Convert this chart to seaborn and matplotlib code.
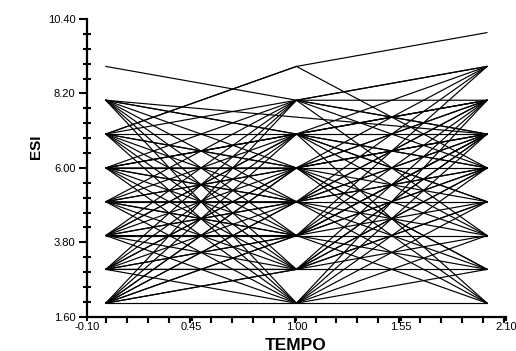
import numpy as np
import pandas as pd
import matplotlib
matplotlib.use("Agg")
import matplotlib.pyplot as plt
from matplotlib.ticker import MultipleLocator, FixedLocator, FormatStrFormatter
import seaborn as sns

# ESI score of each subject at the three time points (None = not measured)
esi_t0 = [9, 8, 8, 8, 8, 8, 8, 8, 8,
          7, 7, 7, 7, 7, 7, 7, 7, 7, 7,
          6, 6, 6, 6, 6, 6, 6, 6, 6, 6,
          5, 5, 5, 5, 5, 5, 5, 5, 5,
          4, 4, 4, 4, 4, 4, 4, 4, 4,
          3, 3, 3, 3, 3, 3, 3, 3, 3,
          2, 2, 2, 2, 2, 2, 2, 2, 2, 2, 2,
          3, 4, 5, 6]
esi_t1 = [8, 7, 6, 5, 4, 3, 2, 7, None,
          9, 9, 8, 7, 6, 5, 4, 3, 2, 6,
          8, 7, 6, 5, 4, 3, 2, 7, 5, None,
          8, 7, 6, 5, 4, 3, 2, 6, 4,
          8, 7, 6, 5, 4, 3, 2, 5, 7,
          8, 7, 6, 5, 4, 3, 2, 6, 4,
          7, 6, 5, 4, 3, 2, 8, 3, 4, 5, 6,
          3, 4, 5, 6]
esi_t2 = [7, 8, 7, 6, 5, 4, 3, 6, 7,
          10, 6, 9, 7, 8, 7, 6, 5, 4, 5,
          9, 8, 6, 7, 7, 6, 5, 5, 4, 8,
          8, 9, 7, 5, 8, 7, 6, 4, 3,
          7, 6, 9, 8, 4, 8, 7, 3, 2,
          6, 4, 3, 9, 7, 3, 8, 2, 6,
          5, 8, 2, 9, 6, 2, 4, 5, 2, 6, 3,
          7, 7, 8, 7]
tempo = [0.0, 1.0, 2.0]

rows = []
for sid, vals in enumerate(zip(esi_t0, esi_t1, esi_t2)):
    for t, v in zip(tempo, vals):
        if v is not None:
            rows.append({"id": sid, "TEMPO": t, "ESI": float(v)})
df = pd.DataFrame(rows)

sns.set_theme(style="ticks")
plt.rcParams["font.family"] = ["Liberation Sans", "DejaVu Sans"]

fig = plt.figure(figsize=(5.16, 3.51), dpi=100)
ax = fig.add_axes([0.168, 0.0977, 0.813, 0.848])

sns.lineplot(data=df, x="TEMPO", y="ESI", units="id", estimator=None,
             color="black", linewidth=0.85, sort=False, legend=False, ax=ax)

ax.set_xlim(-0.10, 2.10)
ax.set_ylim(1.60, 10.40)

ax.xaxis.set_major_locator(FixedLocator([-0.10, 0.45, 1.00, 1.55, 2.10]))
ax.xaxis.set_minor_locator(MultipleLocator(0.11))
ax.yaxis.set_major_locator(FixedLocator([1.60, 3.80, 6.00, 8.20, 10.40]))
ax.yaxis.set_minor_locator(FixedLocator(list(np.arange(1.60, 10.41, 0.44))))
ax.xaxis.set_major_formatter(FormatStrFormatter("%.2f"))
ax.yaxis.set_major_formatter(FormatStrFormatter("%.2f"))

for s in ["top", "right"]:
    ax.spines[s].set_visible(False)
for s in ["left", "bottom"]:
    ax.spines[s].set_linewidth(1.6)
    ax.spines[s].set_color("black")

ax.tick_params(axis="y", which="major", direction="out", length=6, width=1.5,
               pad=2, labelsize=8, colors="black")
ax.tick_params(axis="y", which="minor", direction="inout", length=6, width=1.5,
               colors="black")
ax.tick_params(axis="x", which="major", direction="out", length=3, width=1.5,
               pad=1, labelsize=8, colors="black")
ax.tick_params(axis="x", which="minor", direction="out", length=4, width=1.5,
               colors="black")

ax.set_xlabel("TEMPO", fontsize=12.5, fontweight="bold", color="black")
ax.set_ylabel("ESI", fontsize=11, fontweight="bold", color="black")
ax.xaxis.set_label_coords(0.497, -0.07)
ax.yaxis.set_label_coords(-0.105, 0.57)

fig.savefig("out.png", dpi=100, facecolor="white")
